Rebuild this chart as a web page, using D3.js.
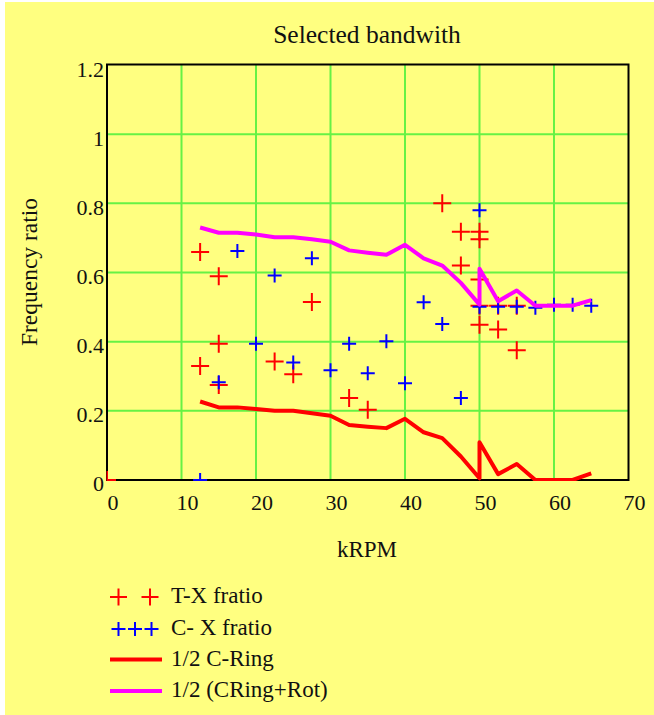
<!DOCTYPE html>
<html>
<head>
<meta charset="utf-8">
<script src="https://cdn.jsdelivr.net/npm/d3@7"></script>
<style>
  html, body { margin: 0; padding: 0; background: #ffffff; }
  svg { display: block; }
  text { font-family: "Liberation Serif", "Times New Roman", serif; fill: #111; }
</style>
</head>
<body>
<svg id="chart" width="654" height="715"></svg>
<script>
// T-X frequency ratio measurements
const txKrpm  = [0, 12.5, 12.5, 15, 15, 15, 22.5, 25, 27.5, 32.5, 35, 45, 47.5, 47.5,
                 50, 50, 50, 50, 50, 52.5, 52.5, 55, 55];
const txRatio = [0, 0.659, 0.330, 0.589, 0.394, 0.275, 0.343, 0.306, 0.515, 0.237, 0.203, 0.800, 0.718, 0.620,
                 0.718, 0.696, 0.580, 0.504, 0.449, 0.504, 0.435, 0.504, 0.375];

// C-X frequency ratio measurements
const cxKrpm  = [12.5, 15, 17.5, 20, 22.5, 25, 27.5, 30, 32.5, 35, 37.5, 40, 42.5, 45, 47.5,
                 50, 50, 52.5, 55, 57.5, 60, 62.5, 65];
const cxRatio = [0, 0.283, 0.662, 0.394, 0.591, 0.340, 0.641, 0.317, 0.394, 0.309, 0.401, 0.280, 0.514, 0.451, 0.237,
                 0.780, 0.501, 0.501, 0.501, 0.498, 0.507, 0.507, 0.504];

// Speed grid shared by the two reference curves
const curveKrpm     = [12.5, 15, 17.5, 20, 22.5, 25, 27.5, 30, 32.5, 35, 37.5, 40, 42.5, 45, 47.5,
                       50, 50, 52.5, 55, 57.5, 60, 62.5, 65];
const cRingHalf     = [0.227, 0.210, 0.210, 0.205, 0.200, 0.200, 0.193, 0.186, 0.159, 0.154, 0.150, 0.177, 0.138, 0.121, 0.068,
                       0.005, 0.109, 0.017, 0.046, 0, 0, 0, 0.019];
const cRingRotHalf  = [0.730, 0.715, 0.715, 0.710, 0.702, 0.702, 0.696, 0.689, 0.664, 0.657, 0.651, 0.680, 0.641, 0.620, 0.570,
                       0.507, 0.611, 0.517, 0.548, 0.504, 0.504, 0.504, 0.520];

const xTicks = [0, 10, 20, 30, 40, 50, 60, 70];
const yTicks = [0, 0.2, 0.4, 0.6, 0.8, 1, 1.2];

const legendLabels = ["T-X fratio", "C- X fratio", "1/2 C-Ring", "1/2 (CRing+Rot)"];

const svg = d3.select("#chart");
const W = 654, H = 715;

// page background with the thin light margin on the top and left
svg.append("rect").attr("x", 5).attr("y", 2).attr("width", W - 5).attr("height", H - 2)
  .attr("fill", "#ffff80");

const plot = { left: 107, right: 628.5, top: 64.5, bottom: 480 };

const x = d3.scaleLinear().domain([0, 70]).range([plot.left, plot.right]);
const y = d3.scaleLinear().domain([0, 1.2]).range([plot.bottom, 65]);

// traces may paint over the inner half of the frame line
svg.append("clipPath").attr("id", "plotClip")
  .append("rect")
  .attr("x", plot.left - 0.5).attr("y", plot.top)
  .attr("width", plot.right - plot.left + 0.5).attr("height", plot.bottom - plot.top + 1);

// grid lines
const grid = svg.append("g");
grid.selectAll("line.gx").data(xTicks.slice(1, -1)).join("line")
  .attr("x1", d => x(d)).attr("x2", d => x(d))
  .attr("y1", plot.top).attr("y2", plot.bottom)
  .attr("stroke", "#66f244").attr("stroke-width", 2);
grid.selectAll("line.gy").data(yTicks.slice(1, -1)).join("line")
  .attr("y1", d => y(d)).attr("y2", d => y(d))
  .attr("x1", plot.left).attr("x2", plot.right)
  .attr("stroke", "#66f244").attr("stroke-width", 2);

// frame
svg.append("rect")
  .attr("x", plot.left).attr("y", plot.top)
  .attr("width", plot.right - plot.left).attr("height", plot.bottom - plot.top)
  .attr("fill", "none").attr("stroke", "#000").attr("stroke-width", 2);

// data traces, clipped to the plot region
const traces = svg.append("g").attr("clip-path", "url(#plotClip)");

function crossPath(cx, cy, r) {
  return `M${cx - r},${cy}H${cx + r}M${cx},${cy - r}V${cy + r}`;
}

traces.selectAll("path.tx").data(d3.range(txKrpm.length)).join("path")
  .attr("d", i => crossPath(x(txKrpm[i]), y(txRatio[i]), 9))
  .attr("stroke", "#ff0000").attr("stroke-width", 2).attr("fill", "none");

traces.selectAll("path.cx").data(d3.range(cxKrpm.length)).join("path")
  .attr("d", i => crossPath(x(cxKrpm[i]), y(cxRatio[i]), 7))
  .attr("stroke", "#0000ff").attr("stroke-width", 2).attr("fill", "none");

const line = d3.line().x(d => x(d[0])).y(d => y(d[1]));

traces.append("path")
  .datum(curveKrpm.map((k, i) => [k, cRingHalf[i]]))
  .attr("d", line)
  .attr("fill", "none").attr("stroke", "#ff0000").attr("stroke-width", 4)
  .attr("stroke-linejoin", "round");

traces.append("path")
  .datum(curveKrpm.map((k, i) => [k, cRingRotHalf[i]]))
  .attr("d", line)
  .attr("fill", "none").attr("stroke", "#ff00ff").attr("stroke-width", 4)
  .attr("stroke-linejoin", "round");

// tick labels
const yLab = d3.scaleLinear().domain([1.2, 0]).range([77, 491]);
svg.append("g").selectAll("text").data(yTicks).join("text")
  .attr("x", 104).attr("y", d => yLab(d))
  .attr("text-anchor", "end").attr("font-size", 22)
  .text(d => d3.format("")(d));

svg.append("g").selectAll("text").data(xTicks).join("text")
  .attr("x", d => x(d) + 6).attr("y", 510)
  .attr("text-anchor", "middle").attr("font-size", 22)
  .text(d => d);

// titles
svg.append("text").attr("x", 367).attr("y", 43).attr("text-anchor", "middle")
  .attr("font-size", 25.5).text("Selected bandwith");
svg.append("text").attr("x", 367).attr("y", 557).attr("text-anchor", "middle")
  .attr("font-size", 23).text("kRPM");
svg.append("text").attr("transform", "translate(37,272) rotate(-90)")
  .attr("text-anchor", "middle").attr("font-size", 23.5).text("Frequency ratio");

// legend
const leg = svg.append("g");
const legY = [597, 629, 659.5, 691];
const legBase = [603, 635, 666, 697];

[118.5, 150].forEach(cx => {
  leg.append("path").attr("d", crossPath(cx, legY[0], 8.5))
    .attr("stroke", "#ff0000").attr("stroke-width", 2);
});
[118.5, 135, 151.5].forEach(cx => {
  leg.append("path").attr("d", crossPath(cx, legY[1], 7))
    .attr("stroke", "#0000ff").attr("stroke-width", 2);
});
leg.append("line").attr("x1", 110).attr("x2", 162).attr("y1", legY[2]).attr("y2", legY[2])
  .attr("stroke", "#ff0000").attr("stroke-width", 4);
leg.append("line").attr("x1", 110).attr("x2", 162).attr("y1", legY[3]).attr("y2", legY[3])
  .attr("stroke", "#ff00ff").attr("stroke-width", 4);

leg.selectAll("text").data(legendLabels).join("text")
  .attr("x", 171).attr("y", (d, i) => legBase[i])
  .attr("font-size", 23).text(d => d);
</script>
</body>
</html>
